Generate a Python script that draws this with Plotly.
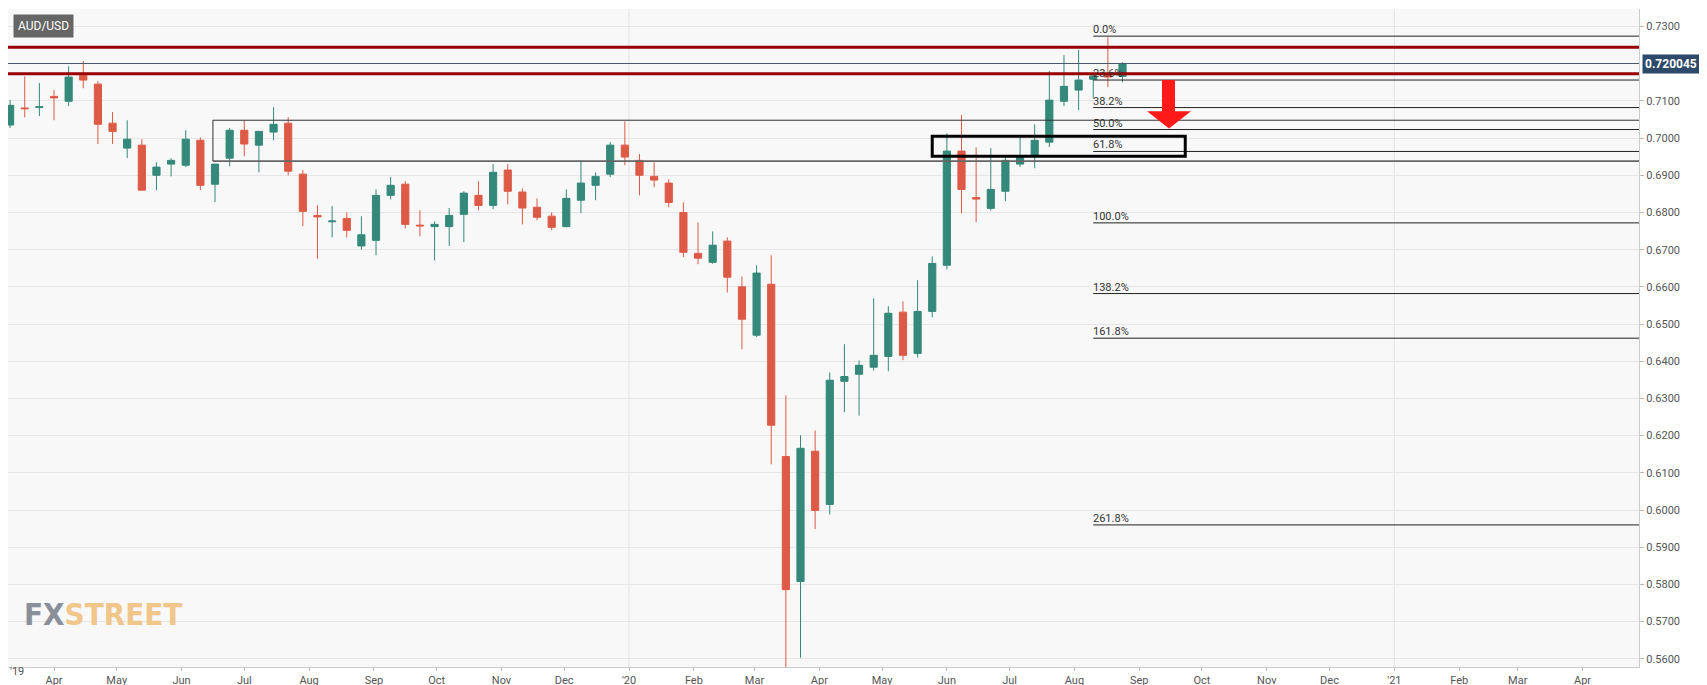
import pandas as pd
import plotly.graph_objects as go

start_week = "2019-03-11"
n_weeks = 77
dates = pd.date_range(start_week, periods=n_weeks, freq="7D")

opens = [.7035,.7081,.7082,.7112,.7099,.7169,.7145,.7040,.6973,.6981,.6900,.6930,.6927,.6994,.6876,.6946,.7021,.6981,.7016,.7040,
         .6903,.6792,.6775,.6784,.6710,.6725,.6846,.6876,.6766,.6762,.6762,.6795,.6846,.6819,.6914,.6855,.6814,.6790,.6762,.6833,
         .6873,.6903,.6981,.6940,.6897,.6879,.6800,.6690,.6666,.6723,.6600,.6470,.6607,.6144,.5808,.6158,.6015,.6346,.6365,.6384,
         .6413,.6532,.6421,.6534,.6658,.6965,.6840,.6811,.6857,.6930,.6954,.6989,.7099,.7129,.7158,.7172,.7166]
highs = [.7102,.7166,.7148,.7129,.7193,.7207,.7153,.7070,.7048,.6997,.6935,.6946,.7021,.7002,.6930,.7027,.7048,.7018,.7083,.7056,
         .6914,.6819,.6817,.6800,.6790,.6862,.6895,.6884,.6806,.6776,.6812,.6857,.6884,.6930,.6930,.6865,.6838,.6800,.6862,.6940,
         .6908,.6989,.7045,.6957,.6935,.6889,.6827,.6773,.6749,.6733,.6628,.6658,.6685,.6308,.6201,.6214,.6370,.6446,.6402,.6569,
         .6548,.6561,.6618,.6682,.7013,.7062,.6975,.6973,.6954,.7005,.7037,.7180,.7223,.7237,.7168,.7271,.7204]
lows = [.7027,.7056,.7059,.7048,.7086,.7134,.6984,.6984,.6946,.6860,.6860,.6897,.6922,.6860,.6828,.6924,.6951,.6908,.6994,.6900,
        .6763,.6676,.6733,.6733,.6700,.6685,.6835,.6757,.6736,.6671,.6710,.6720,.6806,.6809,.6822,.6768,.6779,.6752,.6760,.6798,
        .6833,.6895,.6927,.6846,.6868,.6814,.6680,.6661,.6662,.6585,.6432,.6465,.6123,.5575,.5603,.5949,.5988,.6263,.6254,.6375,
        .6373,.6403,.6410,.6518,.6647,.6798,.6774,.6805,.6830,.6922,.6919,.6976,.7086,.7075,.7107,.7137,.7150]
closes = [.7088,.7079,.7084,.7108,.7164,.7156,.7037,.7018,.6997,.6860,.6922,.6940,.6997,.6873,.6930,.7021,.6984,.7018,.7037,.6911,
          .6803,.6788,.6777,.6752,.6740,.6846,.6873,.6768,.6764,.6768,.6792,.6852,.6819,.6908,.6857,.6812,.6787,.6760,.6838,.6879,
          .6897,.6981,.6949,.6900,.6887,.6827,.6693,.6677,.6712,.6626,.6513,.6637,.6228,.5786,.6166,.5999,.6349,.6359,.6389,.6416,
          .6529,.6416,.6534,.6663,.6965,.6862,.6836,.6862,.6940,.6949,.6994,.7102,.7139,.7156,.7167,.7164,.7199]

fib_levels = [0.7274, 0.7156, 0.7082, 0.7023, 0.6964, 0.6772, 0.6582, 0.6462, 0.5960]
fib_labels = ["0.0%", "23.6%", "38.2%", "50.0%", "61.8%", "100.0%", "138.2%", "161.8%", "261.8%"]
fib_start = "2020-08-10"

red_levels = [0.7244, 0.7173]
last_price = 0.720045
zone_top, zone_bottom, zone_start = 0.7048, 0.6938, "2019-06-16"
box_top, box_bottom, box_start, box_end = 0.7005, 0.6951, "2020-05-25", "2020-09-23"

y_ticks = [0.56, 0.57, 0.58, 0.59, 0.60, 0.61, 0.62, 0.63, 0.64, 0.65, 0.66,
           0.67, 0.68, 0.69, 0.70, 0.71, 0.73]
month_ticks = pd.date_range("2019-04-01", "2021-04-01", freq="MS")
month_text = [("'" + d.strftime("%y")) if d.month == 1 else d.strftime("%b") for d in month_ticks]

GREEN, RED = "#34897a", "#dd5a47"
fig = go.Figure(go.Candlestick(
    x=dates, open=opens, high=highs, low=lows, close=closes,
    increasing=dict(line=dict(color=GREEN, width=1), fillcolor=GREEN),
    decreasing=dict(line=dict(color=RED, width=1), fillcolor=RED),
    whiskerwidth=0, showlegend=False, hoverinfo="skip"))

shapes = []
for d in ["2020-01-01", "2021-01-01"]:
    shapes.append(dict(type="line", xref="x", yref="paper", x0=d, x1=d, y0=0, y1=1,
                       line=dict(color="#e2e2e2", width=1), layer="below"))
shapes.append(dict(type="line", xref="x", yref="y", x0=zone_start, x1="2021-05-01", y0=zone_top, y1=zone_top,
                   line=dict(color="#333", width=1)))
shapes.append(dict(type="line", xref="x", yref="y", x0=zone_start, x1="2021-05-01", y0=zone_bottom, y1=zone_bottom,
                   line=dict(color="#666", width=1.6)))
shapes.append(dict(type="line", xref="x", yref="y", x0=zone_start, x1=zone_start, y0=zone_bottom, y1=zone_top,
                   line=dict(color="#333", width=1)))
shapes.append(dict(type="line", xref="paper", yref="y", x0=0, x1=1, y0=last_price, y1=last_price,
                   line=dict(color="#4a5868", width=1)))
for lv in red_levels:
    shapes.append(dict(type="line", xref="paper", yref="y", x0=0, x1=1, y0=lv, y1=lv,
                       line=dict(color="#990000", width=3)))
for lv in fib_levels:
    shapes.append(dict(type="line", xref="x", yref="y", x0=fib_start, x1="2021-05-01", y0=lv, y1=lv,
                       line=dict(color="#222", width=1)))
shapes.append(dict(type="rect", xref="x", yref="y", x0=box_start, x1=box_end, y0=box_bottom, y1=box_top,
                   line=dict(color="#000", width=3)))
ax = lambda px: px / 1631
shapes.append(dict(type="path", xref="paper", yref="y", fillcolor="#ff1a1a", line=dict(width=0),
    path=f"M {ax(1154)} 0.7156 L {ax(1167)} 0.7156 L {ax(1167)} 0.7072 L {ax(1183)} 0.7072 "
         f"L {ax(1161)} 0.7026 L {ax(1139)} 0.7072 L {ax(1154)} 0.7072 Z"))

annotations = []
for lv, lb in zip(fib_levels, fib_labels):
    annotations.append(dict(x=fib_start, y=lv, xref="x", yref="y", text=lb, showarrow=False,
                            xanchor="left", yanchor="bottom", yshift=-2, xshift=-2,
                            font=dict(size=11, color="#333", family="Roboto")))
annotations.append(dict(x=ax(5), y=1 - 5/658, xref="paper", yref="paper", text="AUD/USD", showarrow=False,
                        xanchor="left", yanchor="top", bgcolor="#666666", borderpad=4,
                        font=dict(size=12, color="white", family="Roboto")))
annotations.append(dict(x=1, y=last_price, xref="paper", yref="y", text="<b>0.720045</b>", showarrow=False,
                        xanchor="left", xshift=3, bgcolor="#2d4a6b", borderpad=2,
                        font=dict(size=12, color="white", family="Roboto")))
annotations.append(dict(x=ax(14), y=(659-626)/658, xref="paper", yref="paper", showarrow=False, xanchor="left",
                        text="<span style='color:#8a909a'>FX</span><span style='color:#f0c68a'>STREET</span>",
                        font=dict(size=31, family="DejaVu Sans Condensed", weight="bold")))
annotations.append(dict(x=0, y=-13/658, xref="paper", yref="paper", text="'19", showarrow=False,
                        xanchor="left", font=dict(size=11, color="#555", family="Roboto")))

fig.update_layout(
    width=1707, height=685, margin=dict(l=0, r=76, t=1, b=26),
    paper_bgcolor="#ffffff", plot_bgcolor="#f8f8f8",
    shapes=shapes, annotations=annotations,
    xaxis=dict(type="date", range=["2019-03-10", "2021-04-28"], rangeslider=dict(visible=False),
               tickvals=list(month_ticks), ticktext=month_text, showgrid=False,
               ticks="outside", ticklen=3, tickcolor="#bbb", showline=True, linecolor="#ccc",
               tickfont=dict(size=11, color="#555", family="Roboto")),
    yaxis=dict(side="right", range=[0.5578, 0.7347], tickvals=y_ticks, tickformat=".4f",
               gridcolor="#e6e6e6", ticks="outside", ticklen=4, tickcolor="#bbb",
               showline=True, linecolor="#ccc", zeroline=False,
               tickfont=dict(size=11, color="#555", family="Roboto")),
)
fig.write_html("out.html")
